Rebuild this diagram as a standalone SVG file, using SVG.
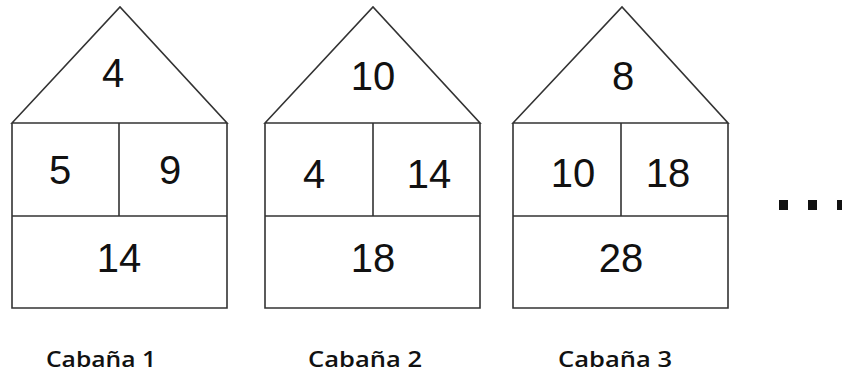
<svg xmlns="http://www.w3.org/2000/svg" width="842" height="373" viewBox="0 0 842 373">
<style>
.ln{fill:none;stroke:#333;stroke-width:1.6;stroke-linejoin:miter}
.n{font-family:"Liberation Sans",Arial,sans-serif;font-size:40px;fill:#111;text-anchor:middle}
.lb{font-family:"Open Sans","DejaVu Sans",sans-serif;font-weight:600;font-size:21px;fill:#111}
.dot{fill:#111}
</style>
<rect width="842" height="373" fill="#fff"/>
<g id="cabana1">
<path class="ln" d="M12,123 L120,7 L227,123 Z M12,123 V308 H227 V123 M12,216 H227 M119,123 V216"/>
<text class="n" x="113" y="87">4</text>
<text class="n" x="60" y="184">5</text>
<text class="n" x="170" y="184">9</text>
<text class="n" x="119" y="272">14</text>
<text class="lb" x="46" y="367" textLength="110" lengthAdjust="spacingAndGlyphs">Cabaña 1</text>
</g>
<g id="cabana2">
<path class="ln" d="M265,123 L373,7 L480,123 Z M265,123 V308 H480 V123 M265,216 H480 M373,123 V216"/>
<text class="n" x="373" y="90">10</text>
<text class="n" x="314" y="188">4</text>
<text class="n" x="429" y="188">14</text>
<text class="n" x="373" y="272">18</text>
<text class="lb" x="308" y="367" textLength="114" lengthAdjust="spacingAndGlyphs">Cabaña 2</text>
</g>
<g id="cabana3">
<path class="ln" d="M513,123 L622,7 L728,123 Z M513,123 V308 H728 V123 M513,216 H728 M621,123 V216"/>
<text class="n" x="623" y="90">8</text>
<text class="n" x="573" y="187">10</text>
<text class="n" x="668" y="187">18</text>
<text class="n" x="621" y="272">28</text>
<text class="lb" x="558" y="367" textLength="114" lengthAdjust="spacingAndGlyphs">Cabaña 3</text>
</g>
<g id="ellipsis">
<rect class="dot" x="779" y="200" width="9" height="10"/>
<rect class="dot" x="808" y="200" width="9" height="10"/>
<rect class="dot" x="837" y="200" width="9" height="10"/>
</g>
<g id="connectors"/>
</svg>
